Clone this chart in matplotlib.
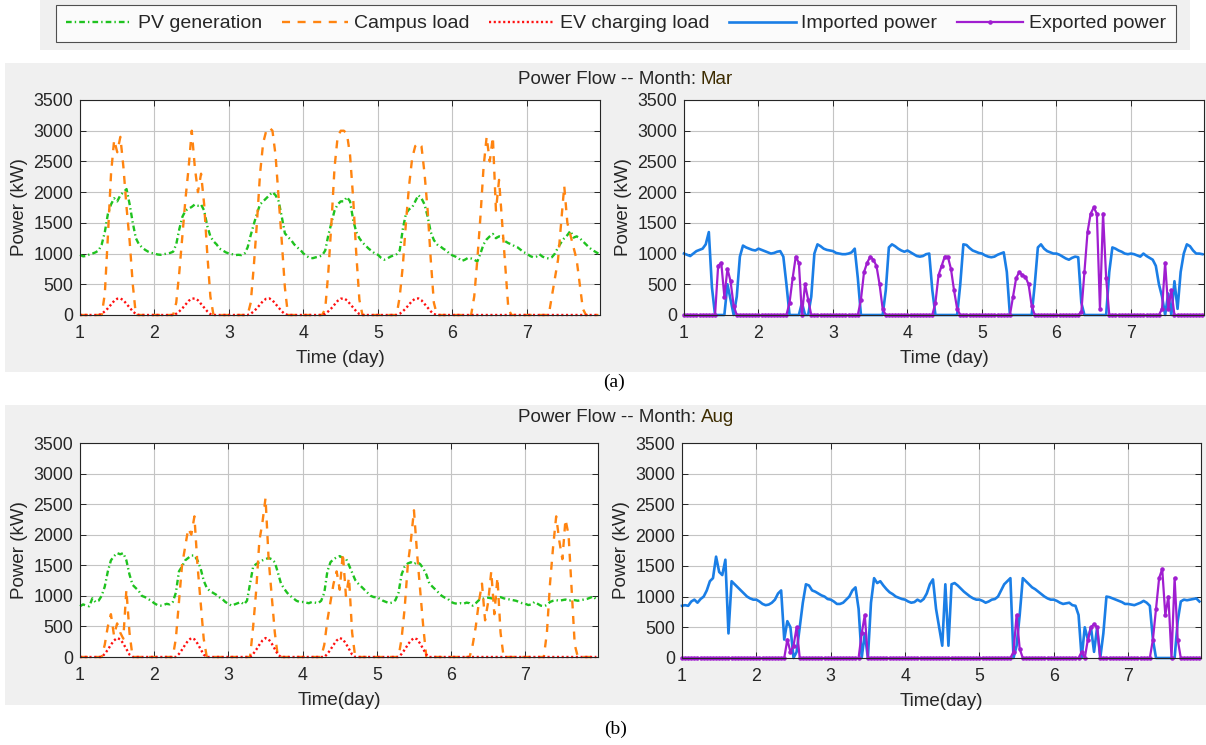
import numpy as np
import matplotlib
matplotlib.use('Agg')
import matplotlib.pyplot as plt
from matplotlib.patches import Rectangle
from matplotlib.lines import Line2D

plt.rcParams['font.family'] = ['Liberation Sans', 'DejaVu Sans']

# hourly samples over one week, time in days (day 1 .. day 8)
hours = np.arange(168)
time_day = 1 + hours / 24

# ---- March ----
pv_mar = [
    [980, 955, 960, 985, 1000, 1020, 1050, 1150, 1350, 1650, 1800, 1900, 1850, 1950, 2000, 2050, 1800, 1500, 1250, 1150, 1100, 1060, 1030, 1010],
    [1000, 985, 980, 990, 1000, 1010, 1030, 1150, 1400, 1600, 1700, 1730, 1760, 1800, 1780, 1800, 1700, 1450, 1280, 1200, 1150, 1080, 1050, 1020],
    [1000, 990, 975, 980, 975, 1000, 1100, 1300, 1480, 1650, 1800, 1850, 1900, 1950, 2000, 1950, 1850, 1600, 1330, 1270, 1220, 1150, 1100, 1060],
    [1000, 960, 930, 925, 940, 950, 970, 1050, 1300, 1500, 1700, 1800, 1850, 1850, 1920, 1850, 1550, 1350, 1250, 1180, 1130, 1080, 1040, 1000],
    [980, 930, 900, 920, 950, 970, 990, 1050, 1400, 1650, 1720, 1750, 1850, 1950, 1900, 1800, 1600, 1350, 1220, 1150, 1120, 1080, 1050, 1000],
    [970, 950, 920, 880, 900, 930, 920, 900, 870, 1000, 1150, 1230, 1280, 1320, 1250, 1280, 1270, 1200, 1170, 1150, 1120, 1100, 1060, 1020],
    [1000, 960, 940, 950, 990, 950, 930, 920, 940, 1000, 1100, 1180, 1250, 1300, 1370, 1260, 1280, 1250, 1200, 1150, 1100, 1060, 1030, 1000],
]
load_mar = [
    [0, 0, 0, 0, 0, 0, 0, 0, 350, 1300, 2300, 2850, 2650, 2900, 2400, 1750, 1200, 500, 0, 0, 0, 0, 0, 0],
    [0, 0, 0, 0, 0, 0, 0, 200, 700, 1300, 1900, 2400, 3000, 2400, 2000, 2300, 1800, 1000, 300, 0, 0, 0, 0, 0],
    [0, 0, 0, 0, 0, 0, 0, 200, 800, 1500, 2300, 2800, 3000, 3050, 3000, 2600, 1900, 1200, 450, 0, 0, 0, 0, 0],
    [0, 0, 0, 0, 0, 0, 0, 100, 700, 1500, 2400, 2900, 3000, 3000, 2950, 2600, 1900, 1000, 250, 0, 0, 0, 0, 0],
    [0, 0, 0, 0, 0, 0, 0, 300, 800, 1500, 2100, 2550, 2750, 2800, 2750, 2300, 1700, 900, 200, 0, 0, 0, 0, 0],
    [0, 0, 0, 0, 0, 0, 0, 300, 900, 1600, 2400, 2900, 2500, 2900, 1700, 2200, 1500, 800, 100, 0, 0, 0, 0, 0],
    [0, 0, 0, 0, 0, 0, 0, 0, 300, 600, 900, 1500, 2100, 1500, 1300, 1100, 900, 500, 100, 0, 0, 0, 0, 0],
]
ev_mar_weekday = [0, 0, 0, 0, 0, 0, 0, 20, 60, 110, 170, 230, 265, 270, 240, 180, 120, 60, 15, 0, 0, 0, 0, 0]
import_mar = [
    [1000, 980, 960, 1000, 1040, 1060, 1080, 1150, 1350, 450, 0, 0, 0, 0, 500, 250, 0, 300, 950, 1130, 1100, 1080, 1060, 1050],
    [1080, 1060, 1040, 1020, 1000, 1010, 1030, 1040, 950, 500, 0, 0, 0, 0, 200, 0, 0, 300, 1000, 1150, 1120, 1080, 1060, 1050],
    [1040, 1010, 1000, 990, 990, 1000, 1020, 1080, 600, 0, 0, 0, 0, 0, 0, 0, 0, 400, 1100, 1150, 1120, 1080, 1050, 1030],
    [1050, 1020, 990, 960, 950, 960, 990, 1000, 400, 0, 0, 0, 0, 0, 0, 0, 0, 500, 1150, 1140, 1090, 1050, 1030, 1010],
    [1000, 970, 950, 940, 950, 980, 1000, 1020, 700, 0, 0, 0, 0, 0, 0, 0, 0, 500, 1100, 1150, 1080, 1040, 1020, 1000],
    [1000, 980, 950, 920, 900, 930, 950, 940, 200, 0, 0, 0, 0, 0, 0, 0, 0, 700, 1100, 1080, 1050, 1030, 1000, 990],
    [1000, 990, 970, 950, 1000, 960, 930, 900, 800, 500, 300, 0, 350, 0, 550, 100, 700, 1000, 1150, 1120, 1050, 1000, 1000, 990],
]
export_mar = [
    [0, 0, 0, 0, 0, 0, 0, 0, 0, 0, 0, 800, 850, 300, 750, 550, 150, 0, 0, 0, 0, 0, 0, 0],
    [0, 0, 0, 0, 0, 0, 0, 0, 0, 0, 200, 600, 950, 850, 0, 500, 250, 0, 0, 0, 0, 0, 0, 0],
    [0, 0, 0, 0, 0, 0, 0, 0, 0, 250, 700, 850, 950, 900, 800, 500, 100, 0, 0, 0, 0, 0, 0, 0],
    [0, 0, 0, 0, 0, 0, 0, 0, 0, 200, 650, 800, 950, 950, 750, 400, 100, 0, 0, 0, 0, 0, 0, 0],
    [0, 0, 0, 0, 0, 0, 0, 0, 0, 0, 300, 600, 700, 650, 620, 500, 150, 0, 0, 0, 0, 0, 0, 0],
    [0, 0, 0, 0, 0, 0, 0, 0, 50, 700, 1350, 1650, 1750, 1650, 100, 1650, 600, 0, 0, 0, 0, 0, 0, 0],
    [0, 0, 0, 0, 0, 0, 0, 0, 0, 0, 100, 850, 100, 400, 0, 0, 0, 0, 0, 0, 0, 0, 0, 0],
]

# ---- August ----
pv_aug = [
    [830, 860, 840, 830, 960, 900, 920, 1000, 1150, 1400, 1580, 1650, 1700, 1680, 1700, 1580, 1350, 1180, 1130, 1080, 1000, 980, 950, 920],
    [880, 850, 840, 850, 870, 860, 900, 1050, 1400, 1480, 1580, 1620, 1660, 1660, 1580, 1450, 1250, 1130, 1080, 1050, 1020, 980, 950, 900],
    [870, 840, 860, 880, 900, 860, 920, 1200, 1480, 1520, 1550, 1580, 1600, 1620, 1600, 1550, 1380, 1200, 1120, 1050, 1000, 960, 920, 900],
    [900, 890, 880, 900, 890, 880, 920, 1050, 1400, 1550, 1600, 1630, 1650, 1620, 1610, 1500, 1380, 1260, 1200, 1150, 1100, 1050, 1000, 980],
    [980, 950, 920, 900, 880, 890, 930, 1050, 1350, 1480, 1530, 1550, 1520, 1550, 1520, 1450, 1350, 1200, 1150, 1100, 1050, 1000, 970, 950],
    [900, 880, 870, 880, 870, 890, 880, 840, 880, 930, 950, 960, 970, 960, 950, 970, 980, 960, 950, 940, 930, 920, 900, 880],
    [870, 850, 860, 900, 870, 840, 830, 850, 900, 920, 930, 920, 930, 940, 920, 930, 930, 920, 930, 940, 950, 970, 990, 940],
]
load_aug = [
    [0, 0, 0, 0, 0, 0, 0, 0, 200, 500, 700, 350, 550, 400, 300, 1100, 400, 0, 0, 0, 0, 0, 0, 0],
    [0, 0, 0, 0, 0, 0, 0, 300, 900, 1500, 1800, 2100, 2000, 2300, 1500, 900, 300, 0, 0, 0, 0, 0, 0, 0],
    [0, 0, 0, 0, 0, 0, 0, 0, 500, 1100, 1900, 2200, 2600, 1600, 1000, 400, 0, 0, 0, 0, 0, 0, 0, 0],
    [0, 0, 0, 0, 0, 0, 0, 200, 600, 900, 1200, 1400, 1100, 1700, 1000, 1300, 400, 0, 0, 0, 0, 0, 0, 0],
    [0, 0, 0, 0, 0, 0, 0, 0, 300, 800, 1500, 1900, 2400, 1700, 1100, 500, 0, 0, 0, 0, 0, 0, 0, 0],
    [0, 0, 0, 0, 0, 0, 0, 200, 500, 900, 1200, 600, 900, 1400, 700, 1300, 400, 0, 0, 0, 0, 0, 0, 0],
    [0, 0, 0, 0, 0, 0, 0, 400, 1200, 1800, 2300, 1900, 1600, 2250, 2000, 1100, 200, 0, 0, 0, 0, 0, 0, 0],
]
ev_aug_weekday = [0, 0, 0, 0, 0, 0, 0, 0, 50, 120, 200, 270, 310, 290, 220, 130, 40, 0, 0, 0, 0, 0, 0, 0]
import_aug = [
    [850, 860, 850, 920, 950, 900, 960, 1000, 1100, 1250, 1300, 1650, 1400, 1350, 1600, 400, 1250, 1200, 1150, 1100, 1050, 1000, 970, 950],
    [950, 920, 880, 860, 870, 900, 950, 1050, 1100, 300, 600, 500, 0, 100, 500, 900, 1200, 1180, 1100, 1080, 1050, 1020, 1000, 960],
    [950, 920, 880, 880, 900, 950, 1000, 1100, 1150, 800, 0, 400, 0, 900, 1300, 1220, 1250, 1180, 1120, 1070, 1040, 1000, 980, 960],
    [950, 920, 900, 910, 950, 920, 960, 1050, 1200, 1280, 800, 500, 200, 1200, 200, 1200, 1220, 1180, 1130, 1080, 1040, 1000, 970, 950],
    [950, 930, 900, 920, 950, 960, 1000, 1100, 1200, 1250, 1300, 0, 200, 700, 1300, 1250, 1200, 1150, 1120, 1080, 1040, 1000, 970, 950],
    [950, 930, 900, 880, 890, 900, 860, 850, 700, 0, 500, 300, 500, 100, 500, 0, 400, 1000, 990, 970, 950, 930, 910, 880],
    [880, 870, 860, 880, 900, 930, 900, 850, 300, 0, 0, 0, 0, 0, 0, 0, 600, 920, 950, 940, 950, 960, 970, 920],
]
export_aug = [
    [0] * 24,
    [0] * 10 + [300, 100, 200, 500] + [0] * 10,
    [0] * 10 + [400, 700] + [0] * 12,
    [0] * 24,
    [0] * 11 + [100, 700, 150] + [0] * 10,
    [0] * 9 + [100, 0, 300, 500, 550, 500] + [0] * 9,
    [0] * 8 + [300, 800, 1300, 1450, 700, 1000, 0, 1300, 300] + [0] * 7,
]

TICK_COLOR = '#262626'
c_pv, c_load, c_ev = '#1fc21f', '#ff8410', '#ff1010'
c_imp, c_exp = '#1a7ee6', '#a01ed0'
ls_pv = (0, (2.4, 1.3, 0.6, 1.3))
ls_load = (0, (3.4, 3.2))
ls_ev = (0, (0.9, 1.1))


def week(days):
    return np.concatenate([np.asarray(d, dtype=float) for d in days])


def style_axes(ax, xlabel):
    ax.set_xlim(1, 7.98)
    ax.set_ylim(0, 3500)
    ax.set_xticks(range(1, 8))
    ax.set_yticks(range(0, 3501, 500))
    ax.grid(True, color='#c4c4c4', lw=0.8)
    ax.set_axisbelow(True)
    ax.tick_params(direction='in', top=True, right=True, length=4, width=0.7,
                   labelsize=12.8, colors=TICK_COLOR)
    ax.tick_params(axis='x', pad=7)
    ax.tick_params(axis='y', pad=5)
    ax.set_xlabel(xlabel, fontsize=13.5, color=TICK_COLOR, labelpad=6)
    ax.set_ylabel('Power (kW)', fontsize=13.5, color=TICK_COLOR, labelpad=4)
    for s in ax.spines.values():
        s.set_color(TICK_COLOR)
        s.set_linewidth(0.8)


def draw_left(ax, pv, load, ev):
    ax.plot(time_day, pv, color=c_pv, lw=1.7, ls=ls_pv, clip_on=False)
    ax.plot(time_day, load, color=c_load, lw=1.7, ls=ls_load, clip_on=False)
    ax.plot(time_day, ev, color=c_ev, lw=1.7, ls=ls_ev, clip_on=False)


def draw_right(ax, imp, exp):
    ax.plot(time_day, imp, color=c_imp, lw=1.9, clip_on=False)
    ax.plot(time_day, exp, color=c_exp, lw=1.6, marker='.', ms=4.5, clip_on=False)


fig = plt.figure(figsize=(12.06, 7.45), dpi=100)
W, H = 1206.0, 745.0


def px_rect(x0, y0, x1, y1):
    # pixel box (top-left origin) -> figure coords
    return [x0 / W, 1 - y1 / H, (x1 - x0) / W, (y1 - y0) / H]


# grey figure panels (MATLAB style backgrounds)
for box in [(40, 0, 1190, 50), (5, 63, 1206, 372), (5, 405, 1206, 705)]:
    l, b, w, h = px_rect(*box)
    fig.add_artist(Rectangle((l, b), w, h, transform=fig.transFigure,
                             facecolor='#f0f0f0', edgecolor='none', zorder=-5))

ax_a1 = fig.add_axes(px_rect(80, 100, 600, 315))
ax_a2 = fig.add_axes(px_rect(684, 100, 1204, 315))
ax_b1 = fig.add_axes(px_rect(80, 443, 598, 657))
ax_b2 = fig.add_axes(px_rect(682, 443, 1201, 658))

draw_left(ax_a1, week(pv_mar), week(load_mar), week([ev_mar_weekday] * 5 + [[0] * 24] * 2))
draw_right(ax_a2, week(import_mar), week(export_mar))
draw_left(ax_b1, week(pv_aug), week(load_aug), week([ev_aug_weekday] * 5 + [[0] * 24] * 2))
draw_right(ax_b2, week(import_aug), week(export_aug))

style_axes(ax_a1, 'Time (day)')
style_axes(ax_a2, 'Time (day)')
style_axes(ax_b1, 'Time(day)')
style_axes(ax_b2, 'Time(day)')

# titles: "Power Flow -- Month:" + month name
for y_px, month in [(80, 'Mar'), (418, 'Aug')]:
    fig.text(696 / W, 1 - y_px / H, 'Power Flow -- Month:', ha='right', va='center',
             fontsize=13.5, color=TICK_COLOR)
    fig.text(701 / W, 1 - y_px / H, month, ha='left', va='center',
             fontsize=13.5, color='#3d2c00')

# sub-figure captions
fig.text(614 / W, 1 - 382 / H, '(a)', ha='center', va='center', fontsize=14,
         family=['Liberation Serif', 'DejaVu Serif'])
fig.text(616 / W, 1 - 729 / H, '(b)', ha='center', va='center', fontsize=14,
         family=['Liberation Serif', 'DejaVu Serif'])

handles = [
    Line2D([], [], color=c_pv, lw=1.7, ls=ls_pv),
    Line2D([], [], color=c_load, lw=1.7, ls=ls_load),
    Line2D([], [], color=c_ev, lw=1.7, ls=ls_ev),
    Line2D([], [], color=c_imp, lw=1.9),
    Line2D([], [], color=c_exp, lw=1.6, marker='.', ms=4.5),
]
labels = ['PV generation', 'Campus load', 'EV charging load', 'Imported power', 'Exported power']
leg = fig.legend(handles, labels, ncol=5, loc='upper center', bbox_to_anchor=(616 / W, 1 - 5 / H),
                 frameon=True, fancybox=False, fontsize=14, handlelength=3.4, handletextpad=0.3,
                 columnspacing=1.0, borderpad=0.5, borderaxespad=0)
leg.get_frame().set_edgecolor(TICK_COLOR)
leg.get_frame().set_linewidth(0.8)
for txt in leg.get_texts():
    txt.set_color(TICK_COLOR)

fig.savefig('out.png', dpi=100, facecolor='white')
